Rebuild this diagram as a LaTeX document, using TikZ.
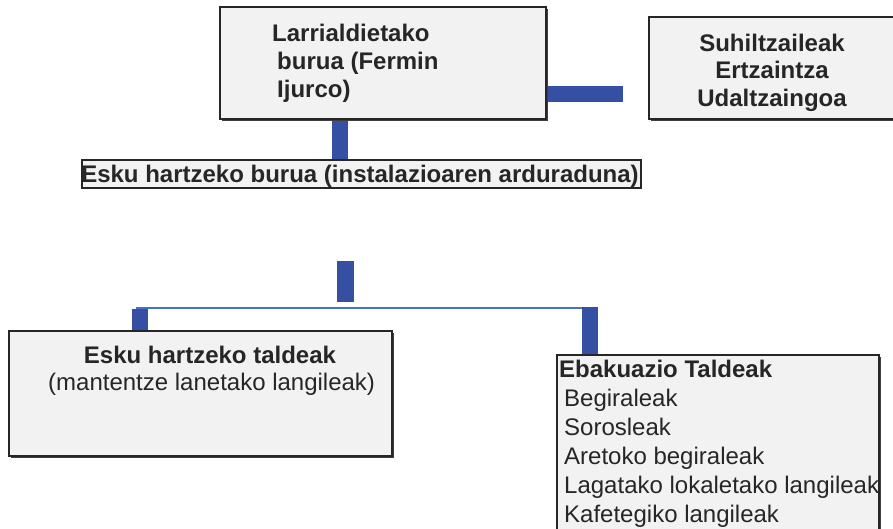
\documentclass[tikz,border=0pt]{standalone}
\usepackage{fontspec}
\setmainfont{Liberation Sans}
\definecolor{boxfill}{HTML}{F2F2F2}
\definecolor{boxline}{HTML}{262626}
\definecolor{shadow}{HTML}{404040}
\definecolor{barblue}{HTML}{3550A3}
\definecolor{thinblue}{HTML}{4472C4}
\tikzset{
  txt/.style={inner sep=0pt, text=boxline, font=\fontsize{24}{28}\selectfont},
  btxt/.style={txt, font=\fontsize{24}{28}\selectfont\bfseries},
  bar/.style={fill=barblue, draw=none},
}
\newcommand{\shbox}[5]{% name, x1,y1,x2,y2
  \fill[shadow] (#2+2,#3+2) rectangle (#4+2,#5+2);
  \draw[boxline, line width=1.3pt, fill=boxfill] (#2,#3) rectangle (#4,#5);
  \coordinate (#1-nw) at (#2,#3);
  \coordinate (#1-se) at (#4,#5);
}
\begin{document}
\begin{tikzpicture}[x=1pt,y=-1pt]
\useasboundingbox (0,0) rectangle (893,528);
% connectors (bars)
\fill[bar] (546,86) rectangle (623,102);
\fill[bar] (332,120) rectangle (348,160);
\fill[bar] (337,261) rectangle (354,302);
\draw[thinblue, line width=2pt] (136,307.5) -- (598,307.5);
\fill[bar] (132,309) rectangle (148,331);
\fill[bar] (582,307) rectangle (598,355);
% top box
\shbox{top}{220}{7}{546}{119}
\node[btxt, anchor=base west] (t1) at (272,41) {Larrialdietako};
\node[btxt, anchor=base west] (t2) at (277,69) {burua (Fermin};
\node[btxt, anchor=base west] (t3) at (277,97) {Ijurco)};
% right box
\shbox{ext}{649}{17}{900}{119}
\node[btxt, anchor=base] (e1) at (772,51) {Suhiltzaileak};
\node[btxt, anchor=base] (e2) at (772,78.5) {Ertzaintza};
\node[btxt, anchor=base] (e3) at (772,106) {Udaltzaingoa};
% esku hartzeko burua
\draw[boxline, line width=1.3pt, fill=boxfill] (82,160) rectangle (641,188);
\node[btxt, anchor=base] (ehb) at (360,182) {Esku hartzeko burua (instalazioaren arduraduna)};
% left bottom box
\shbox{left}{9}{331}{392}{456}
\node[btxt, anchor=base] (l1) at (210,363) {Esku hartzeko taldeak};
\node[txt, anchor=base west] (l2) at (48,390) {(mantentze lanetako langileak)};
% right bottom box
\shbox{ev}{557}{355}{879}{540}
\node[btxt, anchor=base west] (r0) at (559,377) {Ebakuazio Taldeak};
\node[txt, anchor=base west] (r1) at (564,406) {Begiraleak};
\node[txt, anchor=base west] (r2) at (564,435) {Sorosleak};
\node[txt, anchor=base west] (r3) at (564,464) {Aretoko begiraleak};
\node[txt, anchor=base west] (r4) at (564,493) {Lagatako lokaletako langileak};
\node[txt, anchor=base west] (r5) at (564,522) {Kafetegiko langileak};
\end{tikzpicture}
\end{document}
